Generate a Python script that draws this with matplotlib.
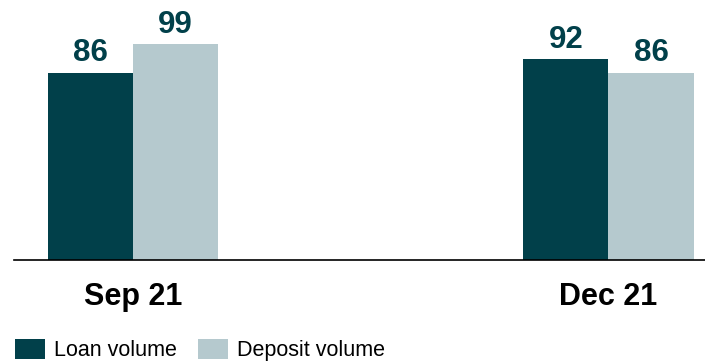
import matplotlib
matplotlib.use('Agg')
from matplotlib import pyplot as plt
import numpy as np

categories = ['Sep 21', 'Dec 21']
loan = [86, 92]
deposit = [99, 86]
series_names = ['Loan volume', 'Deposit volume']

dark = '#01404A'
light = '#B5C9CE'

plt.rcParams['font.family'] = ['Liberation Sans', 'DejaVu Sans']

fig = plt.figure(figsize=(7.05, 3.61), dpi=100)
ax = fig.add_axes([14 / 705, 101 / 361, 1 - 14 / 705, 260 / 361])

x = np.arange(len(categories))
w = 0.179
b1 = ax.bar(x - w / 2, loan, w, color=dark, label=series_names[0])
b2 = ax.bar(x + w / 2, deposit, w, color=light, label=series_names[1])

for bars, vals in ((b1, loan), (b2, deposit)):
	for r, v in zip(bars, vals):
		ax.text(r.get_x() + r.get_width() / 2, v + 2, str(v), ha='center', va='bottom',
				fontsize=22.5, fontweight='bold', color=dark)

ax.set_xlim(-0.25, 1.203)
ax.set_ylim(0, 119.3)
ax.set_xticks(x)
ax.set_xticklabels(categories, fontsize=22, fontweight='bold')
ax.tick_params(axis='x', length=0, pad=16)
ax.set_yticks([])
for s in ['top', 'left', 'right']:
	ax.spines[s].set_visible(False)
ax.spines['bottom'].set_linewidth(1.2)

fig.legend(handles=[b1, b2], loc='lower left', bbox_to_anchor=(0.006, -0.03), ncol=2,
		   frameon=False, fontsize=15.5, handlelength=1.4, handleheight=1.05,
		   handletextpad=0.42, columnspacing=0.95, borderaxespad=0.1)

fig.savefig('out.png', dpi=100)
